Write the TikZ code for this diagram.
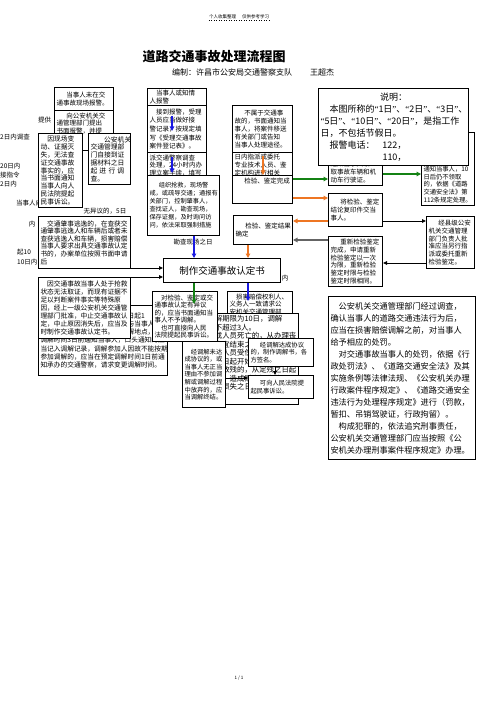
\documentclass[tikz,border=0pt]{standalone}
\usepackage{fontspec}
\setmainfont{Noto Sans CJK SC}
\newfontfamily\latinq{Liberation Serif}
\usetikzlibrary{arrows.meta}
\definecolor{ablue}{RGB}{25,25,225}
\definecolor{agreen}{RGB}{20,130,20}
\definecolor{aorange}{RGB}{238,118,35}
\definecolor{agray}{RGB}{100,100,100}
\newcommand\zhq[1]{{\latinq “}#1{\latinq ”}}
\newcommand\flowbox[7][c]{%
  \node[bx, anchor=north west, minimum width=#5pt, minimum height=#6pt] (#2) at (#3,#4)
  {\parbox[c][\dimexpr #6pt-4pt\relax][#1]{\dimexpr #5pt-4pt\relax}{\raggedright #7}};}
\tikzset{
  bx/.style={draw, fill=white, line width=1pt, inner sep=2pt, font=\fontsize{6.5}{7.8}\selectfont},
  frag/.style={inner sep=0pt, anchor=west, font=\fontsize{6.5}{7.8}\selectfont},
  carr/.style={line width=1.6pt, -{Triangle[length=4.5pt,width=4.5pt]}},
  karr/.style={line width=0.9pt, -{Triangle[length=4pt,width=3.5pt]}}
}
\begin{document}
\begin{tikzpicture}[x=1pt,y=-1pt]
\fill[white] (0,0) rectangle (503,711);
\useasboundingbox (0,0) rectangle (503,711);

% header, title, footer
\node[inner sep=0pt, font=\fontsize{4.5}{5}\selectfont] (hdr) at (239,17) {个人收集整理\hspace{6pt}仅供参考学习};
\draw[dotted, line width=0.5pt] ([yshift=-1pt]hdr.south west) -- ([yshift=-1pt]hdr.south east);
\node[inner sep=0pt, font=\fontsize{13}{15}\selectfont\bfseries] (title) at (214,57) {道路交通事故处理流程图};
\node[inner sep=0pt, anchor=west, font=\fontsize{8}{10}\selectfont] (sub) at (172,72) {编制：许昌市公安局交通警察支队\hspace{18pt}王超杰};
\node[inner sep=0pt, font=\fontsize{4.5}{5}\selectfont] (pg) at (239,678) {1 / 1};

% left margin fragments
\node[frag] (f1) at (0,137) {2日内调查};
\node[frag] (f2) at (0,166) {20日内};
\node[frag] (f3) at (0,175) {接指令};
\node[frag] (f4) at (0,184) {2日内};
\node[frag] (f5) at (16,203) {当事人向};
\node[frag] (f6) at (38,120) {提供};

% left column
\flowbox[t]{B}{54}{110}{59}{40}{\hspace*{1.5em}向公安机关交\\通管理部门提出\\书面报警，并提\\供证据。}
\flowbox{A}{54}{87}{59}{23}{\hspace*{1.5em}当事人未在交\\通事故现场报警。}
\flowbox{C}{38}{133}{44}{74}{\fontsize{6.8}{7.8}\selectfont\hspace*{1em}因现场变\\动、证据灭\\失，无法查\\证交通事故\\事实的，应\\当书面通知\\当事人向人\\民法院提起\\民事诉讼。}
\flowbox{D}{88}{133}{42}{51}{\fontsize{6.8}{7.8}\selectfont\hspace*{2em}公安机关\\交通管理部\\门自接到证\\据材料之日\\起\hspace{2.2pt}进\hspace{2.2pt}行\hspace{2.2pt}调\\查。}

% second column
\flowbox[t]{E}{147}{88}{59}{17}{\hspace*{1em}当事人或知情\\人报警}
\flowbox{F}{147}{105}{59}{47}{\fontsize{6.5}{8.6}\selectfont\hspace*{1em}接到报警，受理\\人员应当做好接\\警记录，按规定填\\写《受理交通事故\\案件登记表》。}
\flowbox[t]{G}{147}{152}{59}{31}{派交通警察调查\\处理，24小时内办\\理立案手续，填写\\《交通事故立案\\登记表》。}
\flowbox{H}{147}{175}{72}{60}{\fontsize{6.2}{8}\selectfont\hspace*{1.5em}组织抢救，现场警\\戒，或疏导交通；通报有\\关部门，控制肇事人，\\查找证人，勘查现场，\\保存证据，及时询问访\\问，依法采取强制措施}
\node[frag, anchor=center] (kc) at (193,242) {勘查现场之日};

% third column
\flowbox{nb}{232}{105}{60}{47}{\hspace*{1.5em}不属于交通事\\故的，书面通知当\\事人，将案件移送\\有关部门或告知\\当事人处理途径。}
\flowbox[t]{zp}{232}{152}{60}{24}{日内指派或委托\\专业技术人员、鉴\\定机构进行相关}
\flowbox[t]{jc}{232}{175}{60}{28}{\hspace*{1.5em}检验、鉴定完成}
\flowbox{jg}{233}{215}{59}{29}{\hspace*{1.5em}检验、鉴定结果\\确定}

% right column
\flowbox[b]{tz}{421}{132}{53}{72}{\fontsize{6.3}{7.8}\selectfont 当事人逾期不\\领取的，应当\\书面通知当事\\人，公告期满\\通知当事人，10\\日后仍不领取\\的，依据《道路\\交通安全法》第\\112条规定处理。}
\flowbox[b]{qu}{328}{148}{54}{36}{检验鉴定完成后\\通知当事人领\\取事故车辆和机\\动车行驶证。}
\flowbox{sm}{318}{88}{150}{77}{\fontsize{9}{12}\selectfont\makebox[\linewidth]{说明：}\\\hspace*{1em}本图所称的\zhq{1日}、\zhq{2日}、\zhq{3日}、\\\zhq{5日}、\zhq{10日}、\zhq{20日}，是指工作\\日，不包括节假日。\\\hspace*{1em}报警电话：\hspace{8pt}122，\\\hspace*{62pt}110，}
\flowbox{jiang}{328}{193}{54}{33}{\hspace*{1.5em}将检验、鉴定\\结论复印件交当\\事人。}
\flowbox{xj}{426}{216}{48}{52}{\hspace*{1.5em}经县级公安\\机关交通管理\\部门负责人批\\准应当另行指\\派或委托重新\\检验鉴定。}
\flowbox{cx}{328}{236}{54}{50}{\hspace*{1.5em}重新检验鉴定\\完成，申请重新\\检验鉴定以一次\\为限，重新检验\\鉴定时限与检验\\鉴定时限相同。}
\flowbox{big}{328}{296}{147}{163}{\fontsize{8.2}{12}\selectfont\hspace*{1em}公安机关交通管理部门经过调查，\\确认当事人的道路交通违法行为后，\\应当在损害赔偿调解之前，对当事人\\给予相应的处罚。\\\hspace*{1em}对交通事故当事人的处罚，依据《行\\政处罚法》、《道路交通安全法》及其\\实施条例等法律法规、《公安机关办理\\行政案件程序规定》、《道路交通安全\\违法行为处理程序规定》进行（罚款，\\暂扣、吊销驾驶证，行政拘留）。\\\hspace*{1em}构成犯罪的，依法追究刑事责任，\\公安机关交通管理部门应当按照《公\\安机关办理刑事案件程序规定》办理。}

% left middle
\node[frag, anchor=center] (wy) at (105,211) {无异议的，5日};
\node[frag, anchor=center] (nei1) at (32,224) {内};
\node[frag] (q10) at (17,252) {起10};
\node[frag] (r10) at (17,262) {10日内};
\flowbox{tao}{38}{216}{92}{52}{\fontsize{6.7}{7.6}\selectfont\hspace*{1em}交通肇事逃逸的，在查获交\\通肇事逃逸人和车辆后或者未\\查获逃逸人和车辆，损害赔偿\\当事人要求出具交通事故认定\\书的，办案单位按照书面申请\\后}
\flowbox{dj}{38}{305}{129}{70}{\fontsize{6.7}{8.2}\selectfont 当事人申请调解的，自受理之日起1\\日内指派交通警察主持调解，与当事人约定\\调解时间、调解员人数以及调解地点，\\调解时间3日前通知当事人，口头通知的应\\当记入调解记录，调解参加人因故不能按期\\参加调解的，应当在预定调解时间1日前通\\知承办的交通警察，请求变更调解时间。}
\flowbox{yin}{38}{277}{92}{61}{\fontsize{6.7}{8}\selectfont\hspace*{1em}因交通事故当事人处于抢救\\状态无法取证，而现有证据不\\足以判断案件事实等特殊原\\因，经上一级公安机关交通管\\理部门批准，中止交通事故认\\定，中止原因消失后，应当及\\时制作交通事故认定书。}

% centre
\flowbox{rd}{163}{258}{117}{24}{\fontsize{9.5}{11}\selectfont\centering 制作交通事故认定书}
\node[frag, anchor=center] (nei2) at (285,278) {内};
\flowbox[t]{sun}{227}{291}{65}{30}{\hspace*{1em}损害赔偿权利人、\\义务人一致请求公\\安机关交通管理部\\门调解。}
\flowbox[t]{tjq}{205}{313}{93}{91}{\fontsize{7.4}{8.5}\selectfont 调解期限为10日，调解\\人不超过3人。\\造成人员死亡的，从办理丧\\葬事宜结束之日起开始；\\造成人员受伤的，从治疗终\\结之日起开始；\\因伤致残的，从定残之日起\\开始；造成财产损失的，从\\确定损失之日起开始。}
\flowbox{dui}{152}{291}{65}{50}{\fontsize{6.5}{7.4}\selectfont\hspace*{1em}对检验、鉴定或交\\通事故认定有异议\\的，应当书面通知当\\事人不予调解。\\\hspace*{1em}也可直接向人民\\法院提起民事诉讼。}
\flowbox{wd}{182}{341}{43}{66}{\fontsize{6.3}{7.6}\selectfont\hspace*{1em}经调解未达\\成协议的，或\\当事人无正当\\理由不参加调\\解或调解过程\\中放弃的，应\\当调解终结。}
\flowbox{dc}{248}{338}{65}{28}{\fontsize{6.3}{7.8}\selectfont\hspace*{1.5em}经调解达成协议\\的，制作调解书，各\\方签名。}
\flowbox{kx}{248}{375}{65}{23}{\fontsize{6.3}{7.8}\selectfont\hspace*{1.5em}可向人民法院提\\起民事诉讼。}

% helper coordinates
\coordinate (x194) at (194,0);
\coordinate (x248) at (248,0);
\coordinate (x263) at (263,0);
\coordinate (x275) at (275,0);
\coordinate (y174) at (0,174);
\coordinate (y179) at (0,179);
\coordinate (y198) at (0,198);
\coordinate (y221) at (0,221);
\coordinate (y240) at (0,240);
\coordinate (y263) at (0,263);
\coordinate (y268) at (0,268);
\coordinate (y378) at (0,378);
\coordinate (b1s) at (172,116);
\coordinate (b1e) at (172,131);
\coordinate (b2s) at (172,157);
\coordinate (b2e) at (172,173);
\coordinate (o1s) at (263,156);
\coordinate (gend) at (194,304);
\coordinate (bend) at (248,301);

% connectors
\draw[carr, ablue] (b1s) -- (b1e);
\draw[carr, ablue] (b2s) -- (b2e);
\draw[carr, aorange] (o1s) -- (jc.north -| x263);
\draw[carr, ablue] (H.south -| x194) -- (rd.north -| x194);
\draw[carr, aorange] (jg.south -| x248) -- (rd.north -| x248);
\draw[karr] (tao.east |- y268) -- (rd.west |- y268);
\draw[karr] (yin.north east) -- (rd.west |- yin.north east);
\draw[carr, agreen] (rd.south -| x194) -- (gend);
\draw[carr, ablue] (rd.south -| x248) -- (bend);
\draw[carr, agreen] (jc.east |- y179) -- (qu.west |- y179);
\draw[carr, agreen] (qu.east |- y174) -- (tz.west |- y174);
\draw[carr, aorange] (jc.east |- y198) -- (jiang.west |- y198);
\draw[carr, aorange] (jiang.west |- y221) -- (jg.east |- y221);
\draw[karr] (jiang.east |- y221) -- (xj.west |- y221);
\draw[karr] (xj.west |- y263) -- (cx.east |- y263);
\draw[carr, agray] (cx.west |- y240) -- (jg.east |- y240);
\draw[karr] (dc.south -| x275) -- (kx.north -| x275);
\draw[karr] (wd.east |- y378) -- (kx.west |- y378);
\end{tikzpicture}
\end{document}
